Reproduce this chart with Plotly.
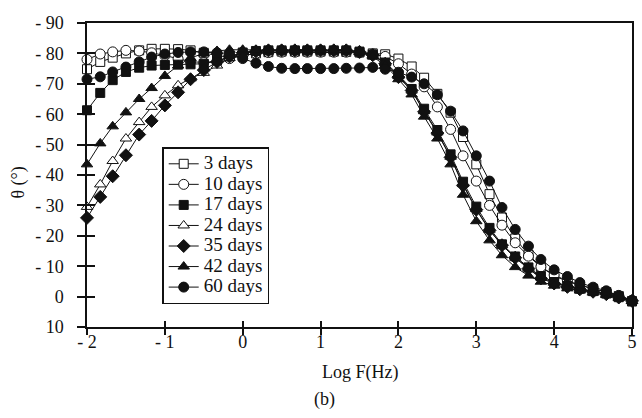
import plotly.graph_objects as go

# log10 of frequency (Hz), six points per decade
log_f = [-2.00, -1.83, -1.67, -1.50, -1.33, -1.17, -1.00, -0.83, -0.67, -0.50,
         -0.33, -0.17, 0.00, 0.17, 0.33, 0.50, 0.67, 0.83, 1.00, 1.17,
         1.33, 1.50, 1.67, 1.83, 2.00, 2.17, 2.33, 2.50, 2.67, 2.83,
         3.00, 3.17, 3.33, 3.50, 3.67, 3.83, 4.00, 4.17, 4.33, 4.50,
         4.67, 4.83, 5.00]

# phase angle theta (degrees) for each immersion time
theta_3d = [-74.8, -77.2, -78.6, -80.0, -81.0, -81.5, -81.5, -81.4, -81.0, -80.2,
            -79.3, -78.8, -79.3, -80.0, -80.4, -80.6, -80.6, -80.6, -80.6, -80.6,
            -80.5, -80.3, -80.0, -79.7, -78.3, -75.7, -72.0, -66.7, -60.5, -52.5,
            -43.5, -33.7, -26.0, -19.1, -13.8, -9.8, -6.8, -5.0, -3.7, -2.6,
            -1.5, -0.2, 1.6]
theta_10d = [-78.0, -79.8, -80.5, -81.0, -80.8, -80.2, -79.3, -78.2, -77.3, -77.0,
             -77.4, -78.3, -79.3, -80.0, -80.3, -80.4, -80.4, -80.4, -80.4, -80.4,
             -80.4, -80.2, -79.8, -79.0, -76.6, -73.2, -69.0, -62.4, -55.0, -46.3,
             -38.0, -30.0, -23.5, -17.7, -13.3, -9.8, -7.1, -5.2, -3.8, -2.7,
             -1.6, -0.4, 1.3]
theta_17d = [-61.3, -67.0, -71.2, -73.9, -75.3, -76.0, -76.2, -76.3, -76.4, -76.6,
             -77.6, -79.0, -80.3, -80.8, -81.0, -81.0, -81.0, -81.0, -81.0, -81.0,
             -81.0, -80.6, -79.6, -77.0, -73.0, -68.3, -61.8, -54.8, -46.8, -37.8,
             -29.6, -22.6, -17.2, -13.2, -9.6, -6.7, -4.8, -3.5, -2.6, -1.8,
             -1.0, 0.2, 1.5]
theta_24d = [-29.5, -36.9, -44.6, -52.0, -57.4, -62.4, -66.2, -69.5, -71.8, -73.6,
             -76.0, -78.5, -80.0, -80.7, -81.0, -81.0, -81.0, -81.0, -81.0, -81.0,
             -81.0, -80.6, -79.5, -76.8, -72.6, -67.8, -61.0, -54.0, -46.0, -37.0,
             -28.8, -22.0, -16.9, -12.8, -9.3, -6.3, -4.5, -3.3, -2.4, -1.6,
             -0.8, 0.3, 1.4]
theta_35d = [-25.9, -32.8, -39.6, -46.5, -53.3, -57.8, -62.9, -67.2, -71.5, -74.5,
             -77.2, -79.0, -80.2, -80.7, -81.0, -81.0, -81.0, -81.0, -81.0, -81.0,
             -81.0, -80.5, -79.4, -76.6, -72.2, -67.8, -60.8, -53.8, -45.8, -36.6,
             -28.6, -21.8, -16.9, -12.8, -9.2, -6.0, -4.3, -3.2, -2.4, -1.6,
             -0.8, 0.3, 1.4]
theta_42d = [-43.5, -50.4, -56.0, -60.6, -65.0, -68.6, -72.6, -76.0, -78.5, -80.0,
             -80.8, -81.2, -81.2, -81.0, -81.0, -81.0, -81.0, -81.0, -81.0, -81.0,
             -81.0, -80.4, -79.0, -76.0, -71.5, -66.5, -59.2, -52.0, -43.5, -33.5,
             -24.8, -18.5, -13.6, -9.7, -6.9, -4.9, -3.6, -2.7, -2.0, -1.3,
             -0.5, 0.5, 1.5]
theta_60d = [-71.5, -72.3, -73.9, -75.5, -77.2, -78.8, -79.8, -80.3, -80.5, -80.5,
             -80.2, -79.5, -78.3, -76.8, -75.7, -75.1, -75.0, -75.0, -75.0, -75.0,
             -75.1, -75.2, -75.4, -74.8, -73.8, -72.2, -70.0, -66.4, -61.0, -54.5,
             -46.3, -38.0, -29.3, -22.1, -16.6, -12.2, -8.8, -6.6, -4.6, -3.1,
             -1.9, -0.3, 1.2]

series_names = ["3 days", "10 days", "17 days", "24 days", "35 days", "42 days", "60 days"]
series_values = [theta_3d, theta_10d, theta_17d, theta_24d, theta_35d, theta_42d, theta_60d]

x_ticks = [-2, -1, 0, 1, 2, 3, 4, 5]
x_tick_text = ["- 2", "- 1", "0", "1", "2", "3", "4", "5"]
y_ticks = [-90, -80, -70, -60, -50, -40, -30, -20, -10, 0, 10]
y_tick_text = ["- 90", "- 80", "- 70", "- 60", "- 50", "- 40", "- 30", "- 20", "- 10", "0", "10"]

INK = "#111111"
FONT = "Liberation Serif, Times New Roman, Times, serif"

styles = [
    dict(symbol="square", color="white", size=9),
    dict(symbol="circle", color="white", size=10),
    dict(symbol="square", color=INK, size=9),
    dict(symbol="triangle-up", color="white", size=10),
    dict(symbol="diamond", color=INK, size=10),
    dict(symbol="triangle-up", color=INK, size=10),
    dict(symbol="circle", color=INK, size=10),
]

fig = go.Figure()
for name, vals, st in zip(series_names, series_values, styles):
    fig.add_trace(go.Scatter(
        x=log_f, y=vals, mode="lines+markers",
        # larger glyphs inside a compact legend row
        name=f"<span style='font-size:19px'>{name}</span>",
        line=dict(color=INK, width=1),
        marker=dict(symbol=st["symbol"], size=st["size"], color=st["color"],
                    line=dict(color=INK, width=1)),
        cliponaxis=False,
    ))

# empty trace so the inward-tick overlay axes get drawn
fig.add_trace(go.Scatter(x=[None], y=[None], xaxis="x2", yaxis="y2",
                         showlegend=False, hoverinfo="skip"))

axis_common = dict(showgrid=False, zeroline=False, linecolor=INK, linewidth=1.5,
                   tickcolor=INK, tickwidth=1.5,
                   tickfont=dict(family=FONT, size=18, color=INK))

fig.update_layout(
    width=642, height=418,
    margin=dict(l=87, r=5, t=23, b=91),
    paper_bgcolor="white", plot_bgcolor="white",
    font=dict(family=FONT, color=INK),
    showlegend=True,
    legend=dict(x=0.138, y=0.592, xanchor="left", yanchor="top",
                bordercolor=INK, borderwidth=1.5, bgcolor="white",
                font=dict(family=FONT, size=13.5, color=INK),
                itemwidth=30, tracegroupgap=0),
    xaxis=dict(range=[-2, 5], tickvals=x_ticks, ticktext=x_tick_text,
               ticks="outside", ticklen=6, showline=True, mirror=True,
               ticklabelstandoff=-8, **axis_common),
    yaxis=dict(range=[10, -90], tickvals=y_ticks, ticktext=y_tick_text,
               ticks="outside", ticklen=8, showline=True, mirror=True,
               ticklabelstandoff=10, **axis_common),
    xaxis2=dict(range=[-2, 5], tickvals=x_ticks, showticklabels=False,
                ticks="inside", ticklen=6, overlaying="x", anchor="y", side="bottom",
                showgrid=False, zeroline=False, showline=False,
                tickcolor=INK, tickwidth=1.5),
    yaxis2=dict(range=[10, -90], tickvals=y_ticks, showticklabels=False,
                ticks="inside", ticklen=8, overlaying="y", anchor="x", side="left",
                showgrid=False, zeroline=False, showline=False,
                tickcolor=INK, tickwidth=1.5),
    annotations=[
        dict(text="θ (°)", xref="paper", yref="paper", x=-0.1255, y=0.474,
             textangle=-90, showarrow=False, xanchor="center", yanchor="middle",
             font=dict(family=FONT, size=18, color=INK)),
        dict(text="Log F(Hz)", xref="paper", yref="paper", x=0.5, y=-0.151,
             showarrow=False, xanchor="center", yanchor="middle",
             font=dict(family=FONT, size=18, color=INK)),
        dict(text="(b)", xref="paper", yref="paper", x=0.436, y=-0.240,
             showarrow=False, xanchor="center", yanchor="middle",
             font=dict(family=FONT, size=18, color=INK)),
    ],
)

fig.write_html("out.html")
